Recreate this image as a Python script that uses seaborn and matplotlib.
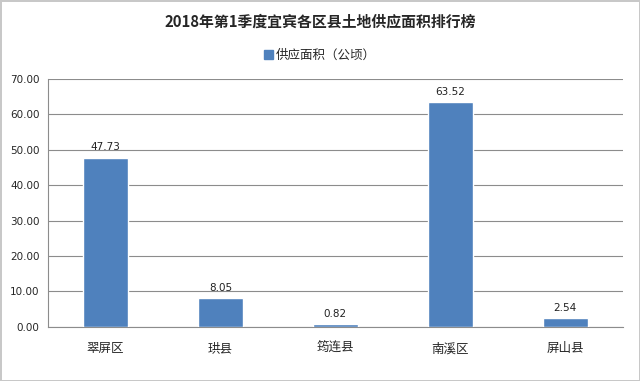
import matplotlib
matplotlib.use("Agg")
import matplotlib.pyplot as plt
import seaborn as sns
import pandas as pd
from matplotlib.patches import Patch

quxian = ["翠屏区", "珙县", "筠连县", "南溪区", "屏山县"]
mianji = [47.73, 8.05, 0.82, 63.52, 2.54]
yticks = [0, 10, 20, 30, 40, 50, 60, 70]

dados = pd.DataFrame({"区县": quxian, "面积": mianji})

sns.set_style("white")
plt.rcParams["font.family"] = ["Noto Sans CJK SC", "DejaVu Sans"]

fig = plt.figure(figsize=(6.4, 3.81), dpi=100, edgecolor="#c8c8c8", linewidth=2)
ax = fig.add_axes([0.075, 0.142, 0.898, 0.651])

sns.barplot(data=dados, x="区县", y="面积", color="#4f81bd", width=0.39,
            saturation=1, ax=ax, zorder=3)

# rótulos de dados acima das barras
for i, v in enumerate(mianji):
    ax.text(i, v + 1.5, f"{v:.2f}", ha="center", va="bottom", fontsize=7.5,
            color="#222222", family="DejaVu Sans")

ax.set_ylim(0, 70)
ax.set_xlim(-0.5, 4.5)
ax.set_yticks(yticks)
ax.set_yticklabels([f"{t:.2f}" for t in yticks], fontsize=7.5, family="DejaVu Sans")
ax.yaxis.grid(True, color="#8c8c8c", linewidth=0.8, zorder=0)
ax.tick_params(axis="y", length=4, color="#8c8c8c", pad=2)
ax.set_xticks(range(len(quxian)))
ax.set_xticklabels(quxian, fontsize=9)
ax.set_xticks([i - 0.5 for i in range(len(quxian) + 1)], minor=True)
ax.tick_params(axis="x", which="major", length=0, pad=11)
ax.tick_params(axis="x", which="minor", length=4, color="#8c8c8c")
ax.set_xlabel("")
ax.set_ylabel("")
for lado in ["top", "right"]:
    ax.spines[lado].set_visible(False)
for lado in ["left", "bottom"]:
    ax.spines[lado].set_color("#8c8c8c")
    ax.spines[lado].set_linewidth(0.8)

fig.suptitle("2018年第1季度宜宾各区县土地供应面积排行榜", y=0.965,
             fontsize=10.7, fontweight="bold")
fig.legend(handles=[Patch(color="#4f81bd", label="供应面积（公顷）")],
           loc="center", bbox_to_anchor=(0.5, 0.855), frameon=False,
           fontsize=9, handlelength=0.7, handleheight=0.7, handletextpad=0.3)

fig.savefig("out.png", dpi=100)
